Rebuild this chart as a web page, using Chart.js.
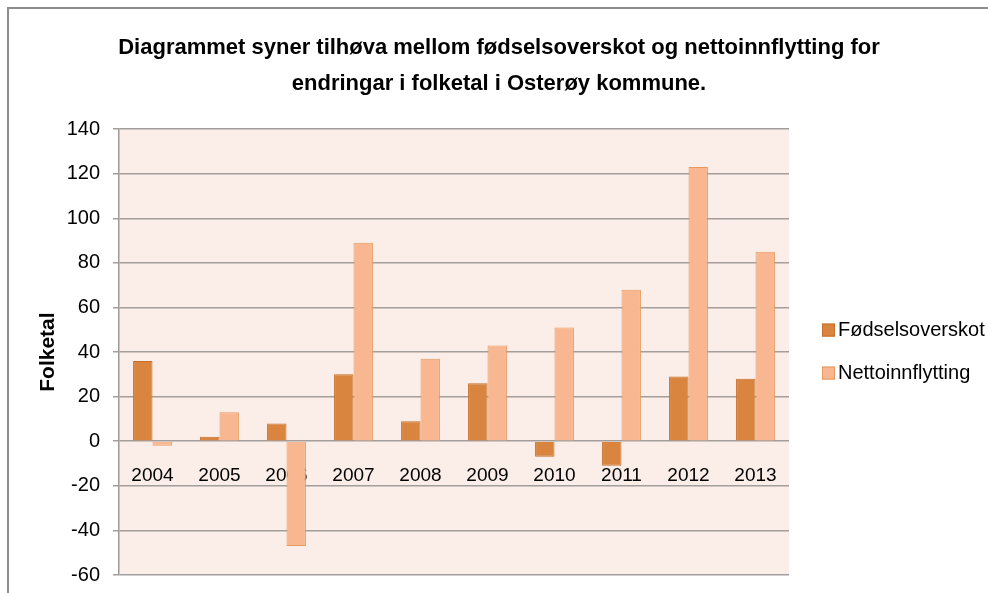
<!DOCTYPE html>
<html>
<head>
<meta charset="utf-8">
<script src="https://cdn.jsdelivr.net/npm/chart.js@4.4.0/dist/chart.umd.min.js"></script>
<style>
  html, body { margin: 0; padding: 0; background: #fff; overflow: hidden; }
  #wrap { position: relative; width: 988px; height: 593px; }
  #frame {
    position: absolute; left: 7px; top: 7px; width: 1000px; height: 600px;
    border-left: 2px solid #8c8c8c; border-top: 2px solid #8c8c8c;
  }
  canvas { position: absolute; left: 0; top: 0; }
</style>
</head>
<body>
<div id="wrap">
  <div id="frame"></div>
  <canvas id="chart" width="988" height="593"></canvas>
</div>
<script>
// Chart data
const years = ['2004', '2005', '2006', '2007', '2008', '2009', '2010', '2011', '2012', '2013'];
const fodselsoverskot = [36, 2, 8, 30, 9, 26, -7, -11, 29, 28];
const nettoinnflytting = [-2, 13, -47, 89, 37, 43, 51, 68, 123, 85];
const titleLines = [
  'Diagrammet syner tilhøva mellom fødselsoverskot og nettoinnflytting for',
  'endringar i folketal i Osterøy kommune.'
];

const FONT = "'Liberation Sans', Arial, sans-serif";

// Fill the plot area with the pale background
const plotBackground = {
  id: 'plotBackground',
  beforeDraw(chart) {
    const { ctx, chartArea } = chart;
    ctx.save();
    ctx.fillStyle = '#fbeee8';
    ctx.fillRect(chartArea.left, chartArea.top, chartArea.right - chartArea.left, chartArea.bottom - chartArea.top);
    ctx.restore();
  }
};

// Legend as a layout box on the right, so the title stays centred on the whole canvas
const sideLegend = {
  id: 'sideLegend',
  beforeInit(chart) {
    const box = {
      position: 'right',
      weight: 0,
      fullSize: false,
      options: {},
      left: 0, top: 0, right: 0, bottom: 0, width: 0, height: 0,
      isHorizontal() { return false; },
      update(maxWidth, maxHeight) {
        this.width = 193;
        this.height = maxHeight;
      },
      draw() {
        const { ctx, chartArea } = chart;
        const mid = (chartArea.top + chartArea.bottom) / 2;
        ctx.save();
        ctx.font = "20px " + FONT;
        ctx.textBaseline = 'middle';
        ctx.textAlign = 'left';
        chart.data.datasets.forEach((ds, i) => {
          const y = mid - 22 + i * 43;
          const x = chartArea.right + 33;
          ctx.fillStyle = ds.backgroundColor;
          ctx.fillRect(x, y - 6.5, 13, 13);
          ctx.strokeStyle = ds.borderColor;
          ctx.lineWidth = 1;
          ctx.strokeRect(x + 0.5, y - 6, 12, 12);
          ctx.fillStyle = '#000';
          ctx.fillText(ds.label, x + 16, y);
        });
        ctx.restore();
      }
    };
    Chart.layouts.addBox(chart, box);
  }
};

const ctx = document.getElementById('chart').getContext('2d');
new Chart(ctx, {
  type: 'bar',
  data: {
    labels: years,
    datasets: [
      {
        label: 'Fødselsoverskot',
        data: fodselsoverskot,
        backgroundColor: '#d9843f',
        borderColor: '#c46f2c',
        borderWidth: 1
      },
      {
        label: 'Nettoinnflytting',
        data: nettoinnflytting,
        backgroundColor: '#f8b790',
        borderColor: '#e6995f',
        borderWidth: 1
      }
    ]
  },
  options: {
    responsive: false,
    animation: false,
    devicePixelRatio: 1,
    layout: {
      padding: { left: 16, right: 6, top: 0, bottom: 18 }
    },
    datasets: {
      bar: {
        categoryPercentage: 0.58,
        barPercentage: 1.0
      }
    },
    plugins: {
      title: {
        display: true,
        text: titleLines,
        color: '#000',
        font: { family: FONT, size: 22, weight: 'bold', lineHeight: 1.64 },
        padding: { top: 30, bottom: 27 }
      },
      legend: { display: false },
      tooltip: { enabled: false }
    },
    scales: {
      x: {
        position: { y: 0 },
        grid: { display: false, drawTicks: false, tickLength: 0 },
        border: { display: false },
        ticks: {
          color: '#000',
          font: { family: FONT, size: 19 },
          padding: 23,
          maxRotation: 0
        }
      },
      y: {
        min: -60,
        max: 140,
        afterFit(axis) {
          axis.width = 103;
          axis.paddingTop = 0;
          axis.paddingBottom = 0;
        },
        grid: {
          color: '#a39e9b',
          lineWidth: 1.5,
          tickLength: 6,
          drawTicks: true
        },
        border: { display: true, color: '#9a9a9a', width: 1.5 },
        ticks: {
          stepSize: 20,
          color: '#000',
          font: { family: FONT, size: 20 },
          padding: 13
        },
        title: {
          display: true,
          text: 'Folketal',
          color: '#000',
          font: { family: FONT, size: 21, weight: 'bold' },
          padding: { top: 20, bottom: 0 }
        }
      }
    }
  },
  plugins: [plotBackground, sideLegend]
});
</script>
</body>
</html>
